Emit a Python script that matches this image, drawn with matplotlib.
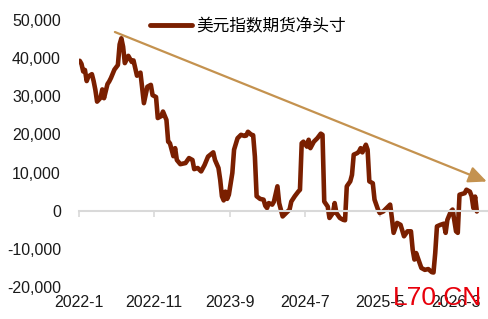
import matplotlib
matplotlib.use("Agg")
import matplotlib.pyplot as plt
import matplotlib.dates as mdates
import pandas as pd
import numpy as np

plt.rcParams['font.family'] = ['Liberation Sans', 'Noto Sans CJK SC', 'DejaVu Sans']

# CFTC report weeks counted from 2022-01-04
report_week = [0, 1, 2, 3, 4, 5, 7, 8, 9, 10, 12, 13, 14, 16, 17, 18, 20, 22, 23, 24,
               25, 26, 28, 30, 31, 33, 35, 37, 39, 41, 42, 44, 45, 47, 48, 50, 51, 52, 54, 55,
               56, 58, 61, 63, 65, 66, 68, 70, 72, 74, 77, 78, 80, 81, 82, 83, 84, 85, 86, 88,
               89, 91, 93, 95, 96, 97, 99, 100, 101, 102, 104, 106, 107, 108, 109, 111, 112, 114, 115, 117,
               119, 121, 122, 124, 126, 127, 128, 129, 131, 132, 133, 135, 137, 139, 140, 141, 143, 144, 146, 147,
               148, 150, 152, 153, 154, 156, 157, 158, 160, 161, 162, 163, 165, 166, 167, 169, 170, 172, 173, 175,
               177, 179, 180, 181, 183, 185, 187, 189, 191, 192, 193, 194, 196, 197, 199, 201, 203, 204, 205, 206,
               208, 210, 211, 212, 214, 215, 217, 218, 219, 222, 223, 225, 226, 227, 228, 229]
net_position = [39300, 38500, 36500, 36900, 34000, 35200, 35800, 34000, 31700, 28600,
                29600, 31800, 29500, 33200, 33900, 34800, 37000, 38200, 43600, 45200,
                43000, 38700, 40600, 39000, 39400, 35400, 36200, 28200, 32500, 33000,
                30300, 29800, 24300, 24800, 26000, 23800, 18100, 17700, 14300, 16400,
                13300, 12200, 12500, 13800, 13300, 10900, 11200, 10300, 12000, 14200,
                15300, 13300, 11200, 8100, 3800, 2700, 5000, 3100, 4200, 9900,
                16000, 19000, 19900, 19600, 19700, 20700, 19900, 19800, 14200, 3800,
                3100, 2900, 1300, 700, 2000, 1600, 2400, 6400, 2000, -1500,
                -600, 300, 2400, 3800, 5000, 5500, 17700, 18100, 16800, 18600,
                16400, 18100, 19000, 20200, 19900, 2400, 1100, -1900, -600, 2000,
                -600, -1900, -2400, -2500, 6400, 7700, 9400, 14700, 15100, 15500,
                16400, 15300, 17300, 16000, 7700, 7200, 2900, 300, -600, -200,
                700, 1600, -1900, -5800, -3200, -3700, -6700, -5400, -5400, -10200,
                -12800, -11100, -13700, -15000, -15500, -15300, -16100, -16200, -11100, -4100,
                -3700, -3400, -5800, -2400, -200, 300, -5400, -5800, 4200, 4600,
                5500, 5000, 3800, 700, 3700, -200]

series_name = '美元指数期货净头寸'
tick_dates = ['2022-01-01', '2022-11-01', '2023-09-01', '2024-07-01', '2025-05-01', '2026-03-01']
tick_labels = ['2022-1', '2022-11', '2023-9', '2024-7', '2025-5', '2026-3']
y_ticks = [-20000, -10000, 0, 10000, 20000, 30000, 40000, 50000]

dates = pd.Timestamp('2022-01-04') + pd.to_timedelta(np.array(report_week) * 7, unit='D')
xnum = mdates.date2num(dates.to_pydatetime())
tick_num = mdates.date2num(pd.to_datetime(tick_dates).to_pydatetime())

fig = plt.figure(figsize=(4.89, 3.19), dpi=100)
ax = fig.add_axes([79/489, 1-287/319, (487-79)/489, (287-20)/319])

line, = ax.plot(xnum, net_position, color='#7A1F00', lw=3.3, solid_joinstyle='round',
                solid_capstyle='round', label=series_name)

ax.set_ylim(-20000, 50000)
ax.set_xlim(tick_num[0], tick_num[0] + 1647)
ax.set_yticks(y_ticks)
ax.set_yticklabels([f'{v:,}' for v in y_ticks])
ax.tick_params(axis='y', length=0, pad=13, labelsize=11.5, labelcolor='#1a1a1a')

for s in ['top', 'right', 'left']:
    ax.spines[s].set_visible(False)
ax.spines['bottom'].set_position(('data', 0))
ax.spines['bottom'].set_color('#D9D9D9')
ax.spines['bottom'].set_linewidth(1.5)
ax.set_xticks(tick_num)
ax.tick_params(axis='x', direction='out', length=4, width=1.2, color='#D9D9D9', labelbottom=False)

sec = ax.secondary_xaxis(0)
sec.set_xticks(tick_num)
sec.set_xticklabels(tick_labels)
sec.tick_params(length=0, pad=6, labelsize=11.5, labelcolor='#1a1a1a')
sec.spines['bottom'].set_visible(False)

ax.annotate('', xy=(0.9995, 0.395), xytext=(0.088, 0.955), xycoords='axes fraction',
            arrowprops=dict(arrowstyle='-|>,head_length=1.1,head_width=0.5', color='#C4924F',
                            lw=1.6, shrinkA=0, shrinkB=0), annotation_clip=False)

leg = fig.legend(handles=[line], loc='center left', bbox_to_anchor=(150/489, 1-26/319),
                 frameon=False, fontsize=12, handlelength=2.5, handletextpad=0.3,
                 borderpad=0, borderaxespad=0)
for h in leg.get_lines():
    h.set_linewidth(3.5)

fig.text(393/489, 1-298/319, 'L70.CN', color='#E8000B', fontsize=19, va='center', ha='left',
         zorder=10)

fig.savefig('out.png', dpi=100)
